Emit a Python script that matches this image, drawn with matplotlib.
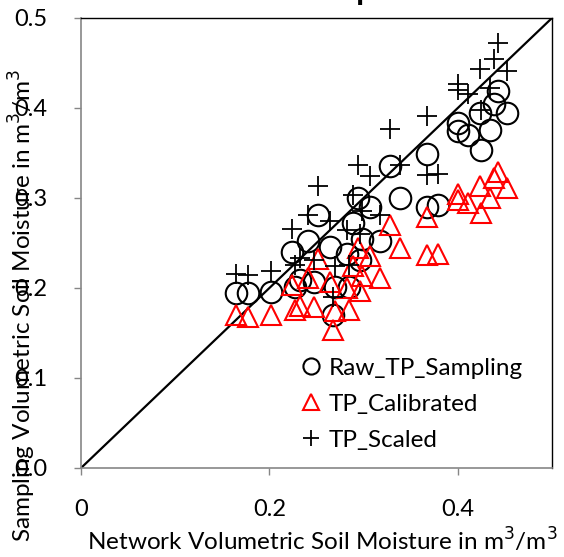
import matplotlib
matplotlib.use("Agg")
import matplotlib.pyplot as plt

plt.rcParams['font.family'] = ['Lato', 'DejaVu Sans']

network_sm = [0.443, 0.438, 0.452, 0.424, 0.400, 0.400, 0.411, 0.434, 0.425,
              0.367, 0.328, 0.339, 0.367, 0.379, 0.294, 0.307, 0.289, 0.298,
              0.317, 0.296, 0.252, 0.241, 0.264, 0.224, 0.232, 0.247, 0.270,
              0.268, 0.165, 0.177, 0.202, 0.282, 0.227, 0.285]
raw_tp = [0.419, 0.405, 0.394, 0.395, 0.383, 0.374, 0.370, 0.376, 0.353,
          0.349, 0.336, 0.300, 0.290, 0.292, 0.300, 0.290, 0.272, 0.255,
          0.252, 0.231, 0.281, 0.252, 0.246, 0.240, 0.209, 0.207, 0.201,
          0.170, 0.194, 0.194, 0.196, 0.238, 0.201, 0.201]
tp_calibrated = [0.329, 0.322, 0.311, 0.313, 0.305, 0.298, 0.295, 0.300, 0.283,
                 0.279, 0.270, 0.244, 0.237, 0.238, 0.244, 0.236, 0.225, 0.213,
                 0.211, 0.197, 0.232, 0.211, 0.207, 0.203, 0.180, 0.179, 0.175,
                 0.153, 0.170, 0.168, 0.170, 0.200, 0.176, 0.176]
tp_scaled = [0.472, 0.454, 0.441, 0.443, 0.427, 0.420, 0.416, 0.422, 0.398,
             0.391, 0.377, 0.337, 0.326, 0.327, 0.337, 0.325, 0.303, 0.286,
             0.281, 0.260, 0.313, 0.281, 0.274, 0.266, 0.233, 0.231, 0.224,
             0.190, 0.216, 0.215, 0.219, 0.264, 0.226, 0.226]

x_ticks = [0, 0.2, 0.4]
x_tick_labels = ["0", "0.2", "0.4"]
y_ticks = [0.0, 0.1, 0.2, 0.3, 0.4, 0.5]
y_tick_labels = ["0.0", "0.1", "0.2", "0.3", "0.4", "0.5"]
one_to_one = [0, 0.5]

fig = plt.figure(figsize=(5.64, 5.57), dpi=100)
ax = fig.add_axes([81/564, 1 - 468/557, 471/564, 450/557])

ax.plot(one_to_one, one_to_one, color='black', lw=1.6, zorder=1)
ax.plot(network_sm, raw_tp, ls='none', marker='o', ms=15.5, mfc='none',
        mec='black', mew=1.5, label='Raw_TP_Sampling', zorder=3)
ax.plot(network_sm, tp_calibrated, ls='none', marker='^', ms=15, mfc='none',
        mec='#ff0000', mew=1.5, label='TP_Calibrated', zorder=3)
ax.plot(network_sm, tp_scaled, ls='none', marker='+', ms=15, mec='black',
        mew=1.3, label='TP_Scaled', zorder=3)

ax.set_xlim(0, 0.5)
ax.set_ylim(0, 0.5)
ax.set_xticks(x_ticks)
ax.set_xticklabels(x_tick_labels)
ax.set_yticks(y_ticks)
ax.set_yticklabels(y_tick_labels)
ax.tick_params(axis='both', direction='out', length=5, width=1, color='#868686',
               labelsize=17)
ax.tick_params(axis='x', pad=17)
ax.tick_params(axis='y', pad=19)
for s in ['left', 'bottom']:
    ax.spines[s].set_color('#868686')
    ax.spines[s].set_linewidth(1.2)
for s in ['top', 'right']:
    ax.spines[s].set_color('black')
    ax.spines[s].set_linewidth(1.0)

fig.text(322/564, 1 - 540/557, "Network Volumetric Soil Moisture in m$^3$/m$^3$",
         ha='center', va='center', fontsize=17.5)
fig.text(22/564, 1 - 305/557, "Sampling Volumetric Soil Moisture in m$^3$/m$^3$",
         ha='center', va='center', fontsize=17.5, rotation=90)
fig.text(367/564, 1 + 3/557, "p", ha='center', va='baseline', fontsize=32)

leg = ax.legend(loc='upper left', bbox_to_anchor=(211/471, 1 - 330/450),
                frameon=False, fontsize=17.5, markerscale=0.75,
                handlelength=0.8, handletextpad=0.3, labelspacing=0.62,
                borderaxespad=0)
fig.savefig("out.png", dpi=100)
